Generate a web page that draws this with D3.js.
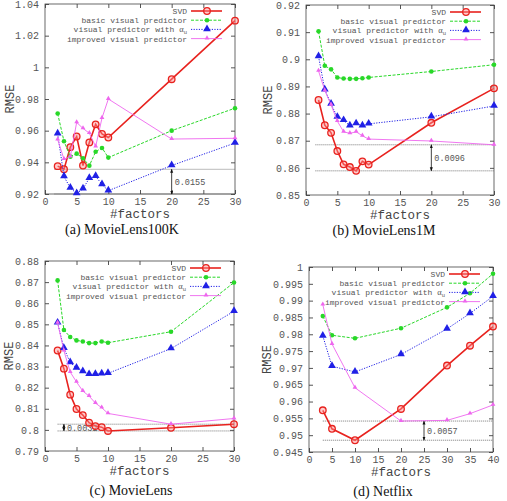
<!DOCTYPE html>
<html>
<head>
<meta charset="utf-8">
<script src="https://cdn.jsdelivr.net/npm/d3@7"></script>
<style>
  body { margin: 0; background: #fff; }
  svg text { font-family: "Liberation Mono", "DejaVu Sans Mono", monospace; }
  svg text.cap { font-family: "Liberation Serif", "DejaVu Serif", serif; }
</style>
</head>
<body>
<div id="chart"></div>
<script>
// ---- data ----
var factors = [2, 3, 4, 5, 6, 7, 8, 9, 10, 20, 30];
var factorsNetflix = [3, 5, 10, 20, 30, 35, 40];

// (a) MovieLens100K
var svdA      = [0.9376, 0.9357, 0.9496, 0.9563, 0.9380, 0.9526, 0.9640, 0.9579, 0.9557, 0.9925, 1.0295];
var basicA    = [0.9708, 0.9533, 0.9436, 0.9455, 0.9426, 0.9379, 0.9467, 0.9491, 0.9430, 0.9600, 0.9742];
var alphaA    = [0.9580, 0.9310, 0.9238, 0.9203, 0.9233, 0.9300, 0.9312, 0.9260, 0.9221, 0.9380, 0.9522];
var improvedA = [0.9544, 0.9420, 0.9436, 0.9652, 0.9614, 0.9584, 0.9500, 0.9680, 0.9800, 0.9547, 0.9552];

// (b) MovieLens1M
var svdB      = [0.8850, 0.8757, 0.8729, 0.8662, 0.8613, 0.8603, 0.8589, 0.8624, 0.8612, 0.8766, 0.8893];
var basicB    = [0.9103, 0.8976, 0.8963, 0.8933, 0.8929, 0.8928, 0.8928, 0.8930, 0.8933, 0.8955, 0.8980];
var alphaB    = [0.9010, 0.8888, 0.8835, 0.8787, 0.8775, 0.8755, 0.8763, 0.8755, 0.8762, 0.8788, 0.8828];
var improvedB = [0.8957, 0.8885, 0.8832, 0.8772, 0.8733, 0.8727, 0.8733, 0.8718, 0.8706, 0.8699, 0.8685];

// (c) MovieLens
var svdC      = [0.8376, 0.8290, 0.8167, 0.8099, 0.8070, 0.8034, 0.8018, 0.8013, 0.7995, 0.8010, 0.8027];
var basicC    = [0.8708, 0.8473, 0.8440, 0.8424, 0.8419, 0.8411, 0.8411, 0.8419, 0.8413, 0.8465, 0.8698];
var alphaC    = [0.8507, 0.8387, 0.8319, 0.8293, 0.8277, 0.8263, 0.8264, 0.8266, 0.8268, 0.8385, 0.8562];
var improvedC = [0.8507, 0.8375, 0.8274, 0.8227, 0.8184, 0.8160, 0.8127, 0.8105, 0.8078, 0.8027, 0.8054];

// (d) Netflix
var svdD      = [0.9574, 0.9519, 0.9485, 0.9578, 0.9707, 0.9766, 0.9823];
var basicD    = [0.9854, 0.9797, 0.9788, 0.9818, 0.9880, 0.9922, 0.9980];
var alphaD    = [0.9795, 0.9705, 0.9688, 0.9740, 0.9816, 0.9862, 0.9913];
var improvedD = [0.9888, 0.9771, 0.9641, 0.9542, 0.9544, 0.9564, 0.9590];

// tick values
var xTicks30 = [0, 5, 10, 15, 20, 25, 30];
var xTicks40 = [0, 5, 10, 15, 20, 25, 30, 35, 40];
var yTicksA = [0.92, 0.94, 0.96, 0.98, 1, 1.02, 1.04];
var yTicksB = [0.85, 0.86, 0.87, 0.88, 0.89, 0.9, 0.91, 0.92];
var yTicksC = [0.79, 0.8, 0.81, 0.82, 0.83, 0.84, 0.85, 0.86, 0.87, 0.88];
var yTicksD = [0.945, 0.95, 0.955, 0.96, 0.965, 0.97, 0.975, 0.98, 0.985, 0.99, 0.995, 1];

// gap annotations: [upper, lower]
var gapA = [0.9356, 0.92], gapB = [0.8685, 0.8589], gapC = [0.8027, 0.7995], gapD = [0.9542, 0.9485];

var seriesNames = ["SVD", "basic visual predictor", "visual predictor with ", "improved visual predictor"];

// ---- panels ----
var panels = [
  {cap: "(a) MovieLens100K", capX: 122, capDy: 39.5, left: 45, top: 4, right: 235, bottom: 194, rmseDx: -31.5,
   xs: factors, ys: [svdA, basicA, alphaA, improvedA], xMax: 30, xTicks: xTicks30, yTicks: yTicksA,
   gap: gapA, gapX: 20, gapText: "0.0155", lineFrom: 1.5},
  {cap: "(b) MovieLens1M", capX: 384, capDy: 39.5, left: 306, top: 5, right: 494, bottom: 195, rmseDx: -34.5,
   xs: factors, ys: [svdB, basicB, alphaB, improvedB], xMax: 30, xTicks: xTicks30, yTicks: yTicksB,
   gap: gapB, gapX: 20, gapText: "0.0096", lineFrom: 1.5},
  {cap: "(c) MovieLens", capX: 131, capDy: 43.5, left: 45, top: 261, right: 234, bottom: 451, rmseDx: -32.5,
   xs: factors, ys: [svdC, basicC, alphaC, improvedC], xMax: 30, xTicks: xTicks30, yTicks: yTicksC,
   gap: gapC, gapX: 3, gapText: "0.0032", lineFrom: 2},
  {cap: "(d) Netflix", capX: 383, capDy: 43.5, left: 309, top: 267, right: 493, bottom: 452, rmseDx: -38.5,
   xs: factorsNetflix, ys: [svdD, basicD, alphaD, improvedD], xMax: 40, xTicks: xTicks40, yTicks: yTicksD,
   gap: gapD, gapX: 25, gapText: "0.0057", lineFrom: 3}
];

var styles = [
  {color: "#e8221e", width: 1.6, dash: null, mark: "ring"},
  {color: "#28d828", width: 1, dash: "3,1.5", mark: "dot"},
  {color: "#2020e6", width: 1, dash: "1.2,1.4", mark: "tri"},
  {color: "#ee66ee", width: 0.9, dash: null, mark: "smalltri"}
];

var MONO = "'Liberation Mono', 'DejaVu Sans Mono', monospace";

var svg = d3.select("#chart").append("svg")
  .attr("width", 507).attr("height", 501);

var defs = svg.append("defs");
defs.append("marker").attr("id", "arrow").attr("viewBox", "0 0 8 8")
  .attr("refX", 7).attr("refY", 4).attr("markerWidth", 5).attr("markerHeight", 5)
  .attr("orient", "auto-start-reverse")
  .append("path").attr("d", "M0,1 L8,4 L0,7 Z").attr("fill", "#111");

function fmt(d) { return String(+d.toFixed(4)); }

function drawMark(g, type, color, x, y) {
  if (type == "ring") {
    g.append("circle").attr("cx", x).attr("cy", y).attr("r", 3.3)
      .attr("fill", "rgba(255,140,140,0.45)").attr("stroke", color).attr("stroke-width", 1.3);
  } else if (type == "dot") {
    g.append("circle").attr("cx", x).attr("cy", y).attr("r", 2.3).attr("fill", color);
  } else {
    var size = type == "tri" ? 26 : 10;
    g.append("path").attr("d", d3.symbol().type(d3.symbolTriangle).size(size)())
      .attr("transform", "translate(" + x + "," + (y - 0.5) + ")").attr("fill", color);
  }
}

panels.forEach(function(p) {
  var width = p.right - p.left, height = p.bottom - p.top;
  var g = svg.append("g").attr("transform", "translate(" + p.left + "," + p.top + ")");

  var x = d3.scaleLinear().domain([0, p.xMax]).range([0, width]);
  var y = d3.scaleLinear().domain([p.yTicks[0], p.yTicks[p.yTicks.length - 1]]).range([height, 0]);

  // axes with inward ticks on all sides
  var ax = g.append("g").attr("transform", "translate(0," + height + ")")
    .call(d3.axisBottom(x).tickValues(p.xTicks).tickSize(-4).tickPadding(4).tickFormat(fmt));
  var ay = g.append("g")
    .call(d3.axisLeft(y).tickValues(p.yTicks).tickSize(-4).tickPadding(6).tickFormat(fmt));
  var at = g.append("g")
    .call(d3.axisTop(x).tickValues(p.xTicks).tickSize(-4).tickFormat(""));
  var ar = g.append("g").attr("transform", "translate(" + width + ",0)")
    .call(d3.axisRight(y).tickValues(p.yTicks).tickSize(-4).tickFormat(""));
  [ax, ay, at, ar].forEach(function(a) {
    a.attr("font-family", MONO).attr("font-size", 10);
    a.select(".domain").remove();
    a.selectAll("line").attr("stroke", "#555");
    a.selectAll("text").attr("fill", "#555");
  });
  g.append("rect").attr("width", width).attr("height", height)
    .attr("fill", "none").attr("stroke", "#444").attr("stroke-width", 0.8);

  // gap annotation
  p.gap.forEach(function(v) {
    g.append("line").attr("x1", x(p.lineFrom)).attr("x2", width)
      .attr("y1", y(v)).attr("y2", y(v))
      .attr("stroke", "#555").attr("stroke-width", 0.8).attr("stroke-dasharray", "1,1");
  });
  g.append("line").attr("x1", x(p.gapX)).attr("x2", x(p.gapX))
    .attr("y1", y(p.gap[0])).attr("y2", y(p.gap[1]))
    .attr("stroke", "#111").attr("stroke-width", 0.8)
    .attr("marker-start", "url(#arrow)").attr("marker-end", "url(#arrow)");
  g.append("text").attr("x", x(p.gapX) + 3).attr("y", (y(p.gap[0]) + y(p.gap[1])) / 2 + 3)
    .attr("fill", "#555").attr("font-family", MONO).style("font-size", "8.5px").text(p.gapText);

  // series
  p.ys.forEach(function(vals, i) {
    var s = styles[i];
    var pts = vals.map(function(v, j) { return [p.xs[j], v]; });
    var line = d3.line().x(function(d) { return x(d[0]); }).y(function(d) { return y(d[1]); });
    g.append("path").datum(pts).attr("d", line).attr("fill", "none")
      .attr("stroke", s.color).attr("stroke-width", s.width)
      .attr("stroke-dasharray", s.dash);
    pts.forEach(function(d) { drawMark(g, s.mark, s.color, x(d[0]), y(d[1])); });
  });

  // legend
  seriesNames.forEach(function(name, i) {
    var s = styles[i];
    var ly = 7 + i * 9.2;
    var t = g.append("text").attr("x", width - 48).attr("y", ly + 3)
      .attr("text-anchor", "end").attr("fill", "#555").attr("font-family", MONO).style("font-size", "8px");
    t.append("tspan").text(name);
    if (i == 2) {
      t.append("tspan").style("font-family", "'Liberation Serif', serif").style("font-size", "8.5px").text("\u03b1");
      t.append("tspan").attr("dy", 1.5).style("font-size", "5.5px").text("u");
    }
    g.append("line").attr("x1", width - 44).attr("x2", width - 13).attr("y1", ly).attr("y2", ly)
      .attr("stroke", s.color).attr("stroke-width", s.width).attr("stroke-dasharray", s.dash);
    drawMark(g, s.mark, s.color, width - 28, ly);
  });

  // axis titles
  g.append("text").attr("transform", "translate(" + p.rmseDx + "," + (height / 2) + ")rotate(-90)")
    .attr("text-anchor", "middle").attr("fill", "#444").attr("font-family", MONO)
    .style("font-size", "12px").text("RMSE");
  g.append("text").attr("x", width / 2).attr("y", height + 24)
    .attr("text-anchor", "middle").attr("fill", "#444").attr("font-family", MONO)
    .style("font-size", "12.5px").text("#factors");

  // caption
  svg.append("text").attr("class", "cap").attr("x", p.capX).attr("y", p.bottom + p.capDy)
    .attr("text-anchor", "middle").attr("fill", "#111")
    .style("font-size", "14px").text(p.cap);
});
</script>
</body>
</html>
